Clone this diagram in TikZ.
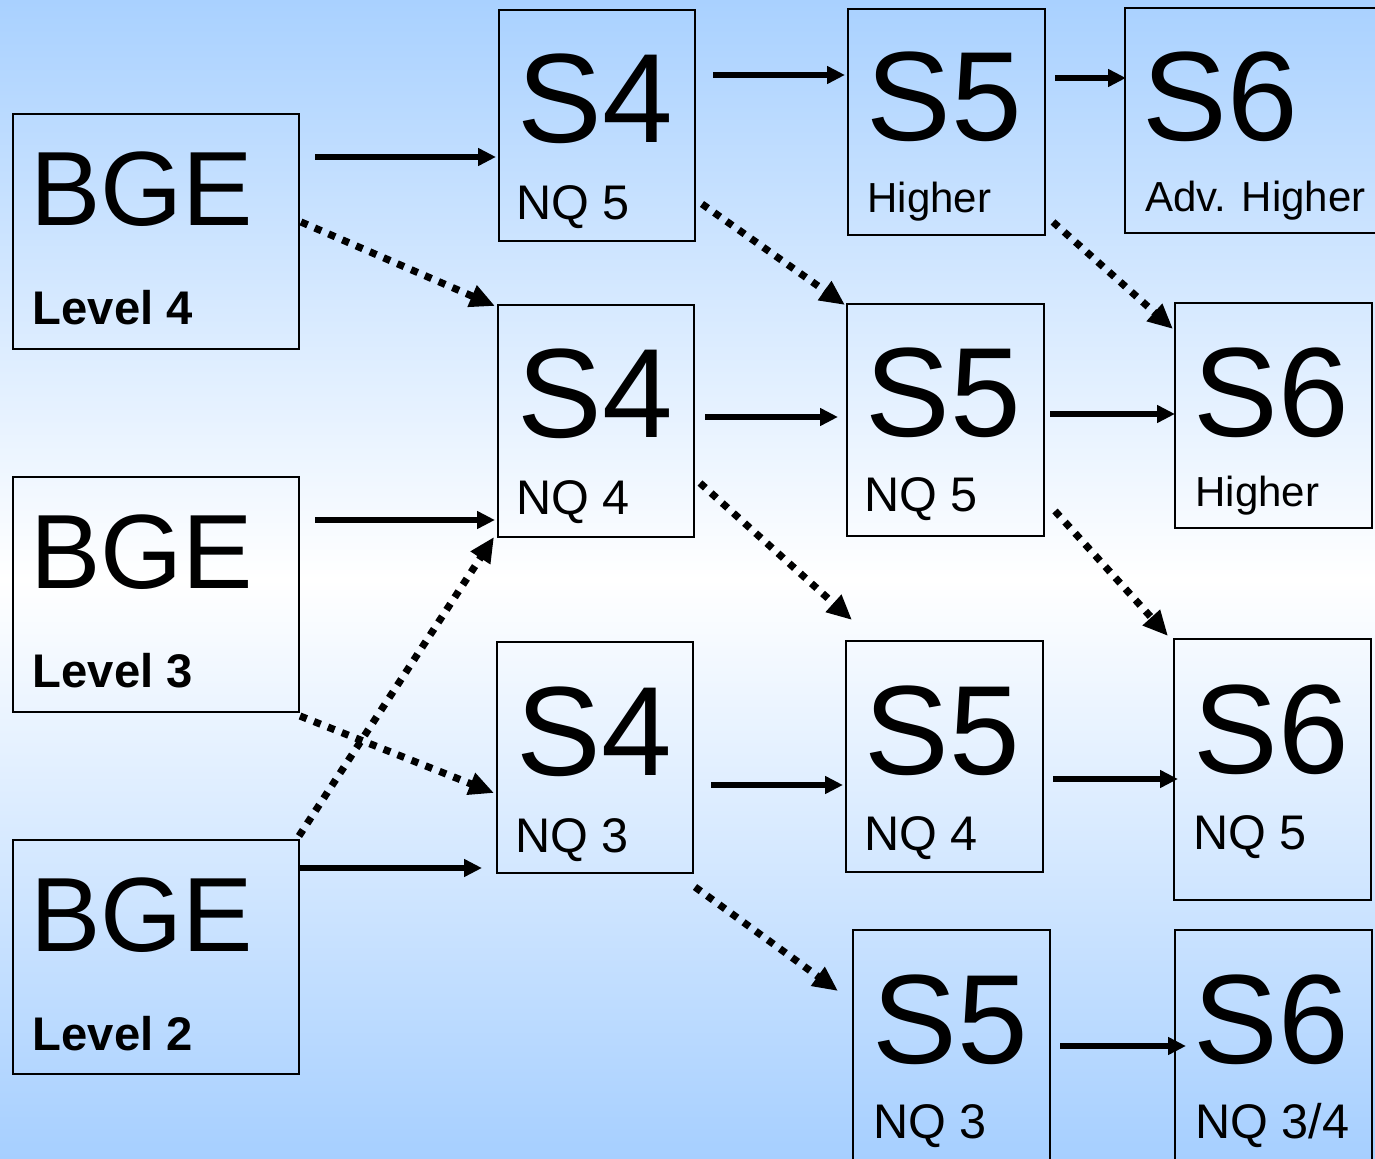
\documentclass[tikz,border=0pt]{standalone}
\usepackage{fontspec}
\setmainfont{Liberation Sans}
\usetikzlibrary{arrows.meta}
\definecolor{bgtop}{RGB}{169,209,255}
\definecolor{bgbot}{RGB}{166,207,255}
\begin{document}
\begin{tikzpicture}[x=0.5pt,y=-0.5pt,
  box/.style={draw, line width=1pt, inner sep=0pt, anchor=north west},
  bgetxt/.style={anchor=base west, inner sep=0pt, font=\fontsize{52.8}{54}\selectfont},
  stxt/.style={anchor=base west, inner sep=0pt, font=\fontsize{63.5}{65}\selectfont},
  lvltxt/.style={anchor=base west, inner sep=0pt, font=\bfseries\fontsize{23.6}{25}\selectfont},
  nqtxt/.style={anchor=base west, inner sep=0pt, font=\fontsize{24.3}{26}\selectfont},
  hitxt/.style={anchor=base west, inner sep=0pt, font=\fontsize{21}{22}\selectfont},
  arr/.style={line width=2.6pt, -{Triangle[length=9pt,width=8.5pt]}},
  dotarr/.style={line width=3.6pt, dash pattern=on 3.6pt off 3.9pt, -{Triangle[length=12.5pt,width=11pt]}}]
\useasboundingbox (0,0) rectangle (1375,1159);
\clip (0,0) rectangle (1375,1159);
\shade[top color=bgtop, bottom color=bgbot, middle color=white] (0,0) rectangle (1375,1159);

% boxes
\node[box, minimum width=143pt, minimum height=117.5pt] (bge4) at (12,113) {};
\node[box, minimum width=143pt, minimum height=117.5pt] (bge3) at (12,476) {};
\node[box, minimum width=143pt, minimum height=117pt] (bge2) at (12,839) {};
\node[box, minimum width=98pt, minimum height=115.5pt] (s4a) at (498,9) {};
\node[box, minimum width=98pt, minimum height=116pt] (s4b) at (497,304) {};
\node[box, minimum width=98pt, minimum height=115.5pt] (s4c) at (496,641) {};
\node[box, minimum width=98.5pt, minimum height=113pt] (s5a) at (847,8) {};
\node[box, minimum width=98.5pt, minimum height=116pt] (s5b) at (846,303) {};
\node[box, minimum width=98.5pt, minimum height=115.5pt] (s5c) at (845,640) {};
\node[box, minimum width=98.5pt, minimum height=125pt] (s5d) at (852,929) {};
\node[box, minimum width=130pt, minimum height=112.5pt] (s6a) at (1124,7) {};
\node[box, minimum width=98.5pt, minimum height=112.5pt] (s6b) at (1174,302) {};
\node[box, minimum width=98.5pt, minimum height=130.5pt] (s6c) at (1173,638) {};
\node[box, minimum width=98.5pt, minimum height=125pt] (s6d) at (1174,929) {};

% texts
\node[bgetxt] (t1) at (30,226) {BGE};
\node[lvltxt] (l1) at (32.5,325) {Level 4};
\node[bgetxt] (t2) at (30,589) {BGE};
\node[lvltxt] (l2) at (32.5,688) {Level 3};
\node[bgetxt] (t3) at (30,951) {BGE};
\node[lvltxt] (l3) at (32.5,1050) {Level 2};

\node[stxt] (t4) at (517,143) {S4};
\node[nqtxt] (l4) at (516,220) {NQ 5};
\node[stxt] (t5) at (517,438) {S4};
\node[nqtxt] (l5) at (516,515) {NQ 4};
\node[stxt] (t6) at (516,775) {S4};
\node[nqtxt] (l6) at (515,852) {NQ 3};

\node[stxt] (t7) at (866,141) {S5};
\node[hitxt] (l7) at (867,213) {Higher};
\node[stxt] (t8) at (865,437) {S5};
\node[nqtxt] (l8) at (864,512) {NQ 5};
\node[stxt] (t9) at (864,774) {S5};
\node[nqtxt] (l9) at (864,850) {NQ 4};
\node[stxt] (t10) at (872,1063) {S5};
\node[nqtxt] (l10) at (873,1138) {NQ 3};

\node[stxt] (t11) at (1142,141) {S6};
\node[hitxt] (l11) at (1145,212) {Adv. Higher};
\node[stxt] (t12) at (1193,437) {S6};
\node[hitxt] (l12) at (1195,507) {Higher};
\node[stxt] (t13) at (1193,773) {S6};
\node[nqtxt] (l13) at (1193,849) {NQ 5};
\node[stxt] (t14) at (1193,1063) {S6};
\node[nqtxt] (l14) at (1195,1138) {NQ 3/4};

% arrow end points
\coordinate (a1s) at (315,157);  \coordinate (a1e) at (496,157);
\coordinate (a2s) at (713,75);   \coordinate (a2e) at (845,75);
\coordinate (a3s) at (1055,78);  \coordinate (a3e) at (1126,78);
\coordinate (a4s) at (705,417);  \coordinate (a4e) at (838,417);
\coordinate (a5s) at (1050,414); \coordinate (a5e) at (1175,414);
\coordinate (a6s) at (315,520);  \coordinate (a6e) at (495,520);
\coordinate (a7s) at (299,868);  \coordinate (a7e) at (482,868);
\coordinate (a8s) at (711,785);  \coordinate (a8e) at (843,785);
\coordinate (a9s) at (1053,779); \coordinate (a9e) at (1178,779);
\coordinate (a10s) at (1060,1046); \coordinate (a10e) at (1186,1046);

\coordinate (d1s) at (301,222);  \coordinate (d1e) at (495,306);
\coordinate (d2s) at (702,204);  \coordinate (d2e) at (845,305);
\coordinate (d3s) at (1053,222); \coordinate (d3e) at (1173,329);
\coordinate (d4s) at (700,483);  \coordinate (d4e) at (852,620);
\coordinate (d5s) at (1055,511); \coordinate (d5e) at (1168,636);
\coordinate (d6s) at (300,716);  \coordinate (d6e) at (494,793);
\coordinate (d7s) at (299,836);  \coordinate (d7e) at (494,537);
\coordinate (d8s) at (695,887);  \coordinate (d8e) at (838,991);

% solid arrows
\draw[arr] (a1s) -- (a1e);
\draw[arr] (a2s) -- (a2e);
\draw[arr] (a3s) -- (a3e);
\draw[arr] (a4s) -- (a4e);
\draw[arr] (a5s) -- (a5e);
\draw[arr] (a6s) -- (a6e);
\draw[arr] (a7s) -- (a7e);
\draw[arr] (a8s) -- (a8e);
\draw[arr] (a9s) -- (a9e);
\draw[arr] (a10s) -- (a10e);

% dotted arrows
\draw[dotarr] (d1s) -- (d1e);
\draw[dotarr] (d2s) -- (d2e);
\draw[dotarr] (d3s) -- (d3e);
\draw[dotarr] (d4s) -- (d4e);
\draw[dotarr] (d5s) -- (d5e);
\draw[dotarr] (d6s) -- (d6e);
\draw[dotarr] (d7s) -- (d7e);
\draw[dotarr] (d8s) -- (d8e);
\end{tikzpicture}
\end{document}
